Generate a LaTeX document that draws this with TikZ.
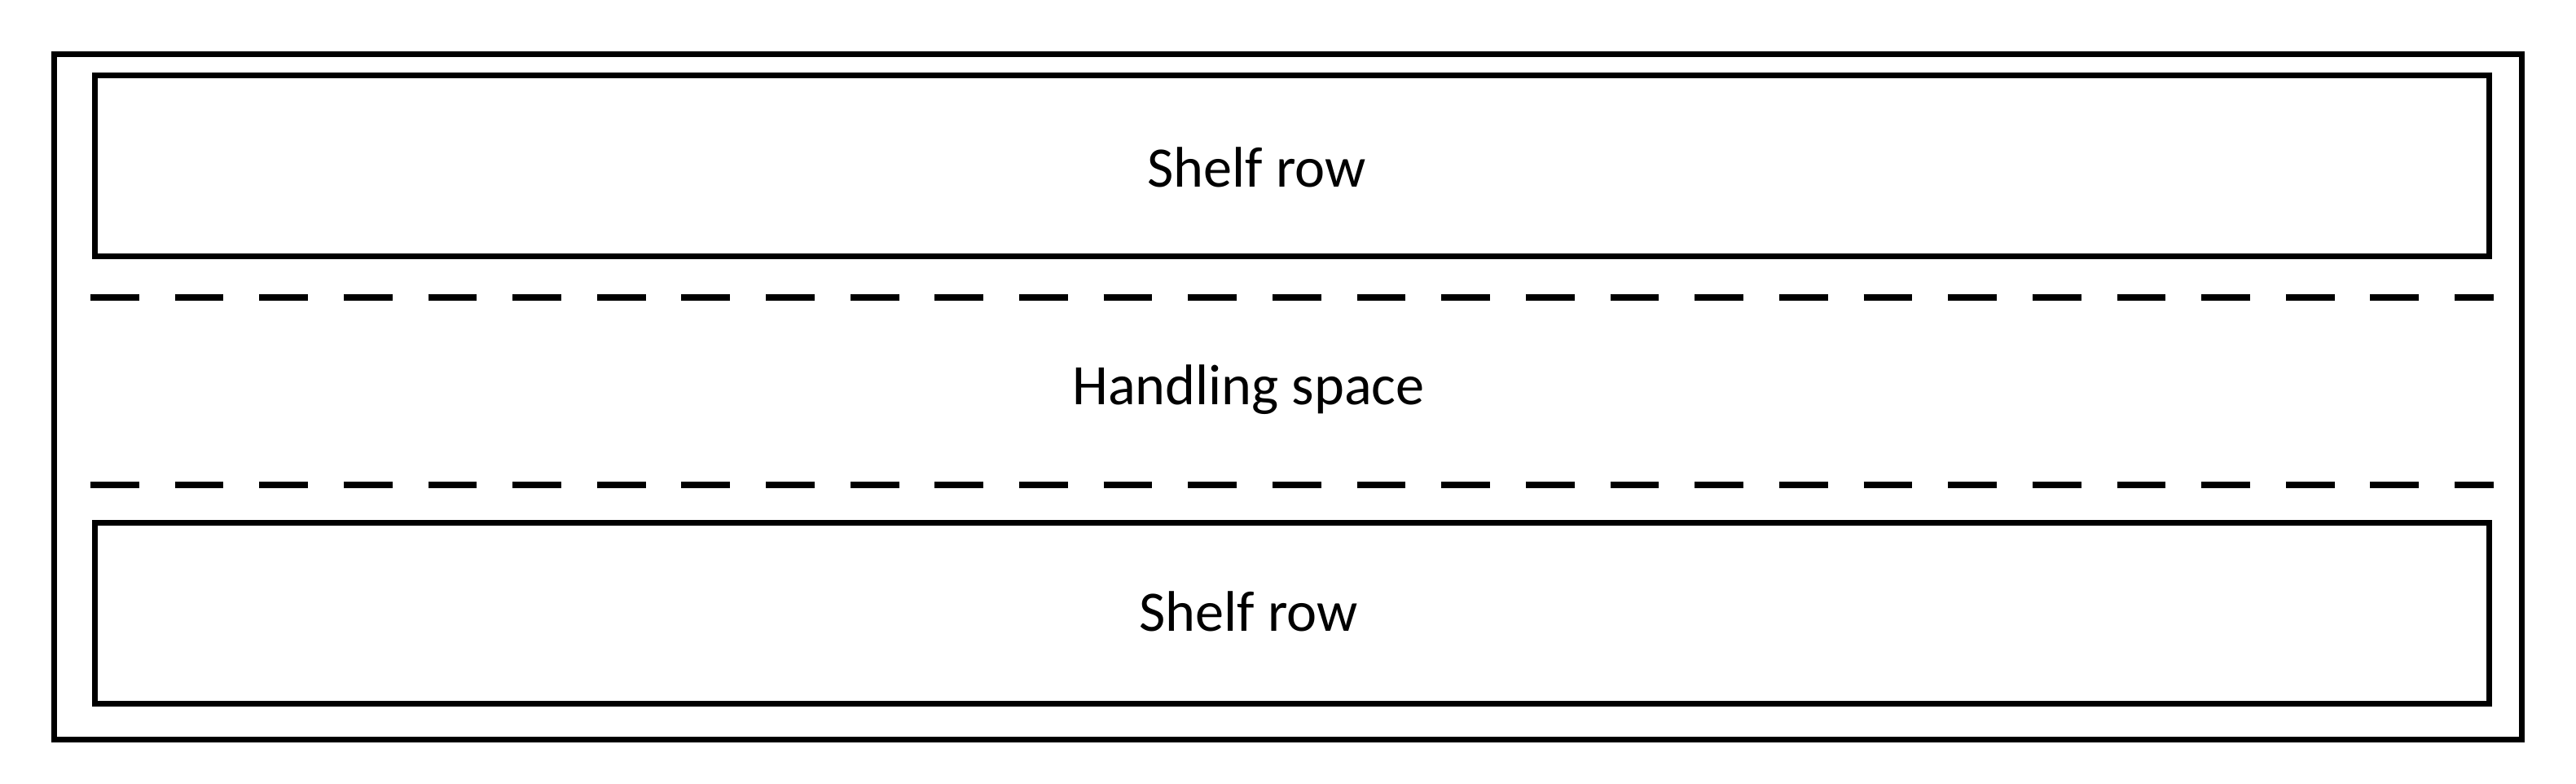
\documentclass[tikz,border=0pt]{standalone}
\usepackage{fontspec}
\setmainfont{Carlito}
\tikzset{
  shelf/.style = {draw, line width=2pt, minimum width=29.39cm, minimum height=2.22cm},
  aisle line/.style = {line width=2.3pt, dash pattern=on 17pt off 12.5pt},
  label/.style = {font=\fontsize{20}{24}\selectfont}
}
\begin{document}
\begin{tikzpicture}[x=0.02017cm, y=-0.02017cm]
  \useasboundingbox (0,0) rectangle (1568,477);

  \draw[line width=1.8pt] (33,33) rectangle (1535,450);

  \node[shelf] (top) at (786.5,101) {};
  \node[shelf] (bottom) at (786.5,373) {};
  \node[label] (top text) at (765,102) {Shelf row};
  \node[label] (bottom text) at (760,372) {Shelf row};

  \coordinate (upper left) at (55,181);
  \coordinate (upper right) at (1518,181);
  \coordinate (lower left) at (55,295);
  \coordinate (lower right) at (1518,295);
  \draw[aisle line] (upper left) -- (upper right);
  \draw[aisle line] (lower left) -- (lower right);

  \node[label] (aisle) at (760,237) {Handling space};
\end{tikzpicture}
\end{document}
